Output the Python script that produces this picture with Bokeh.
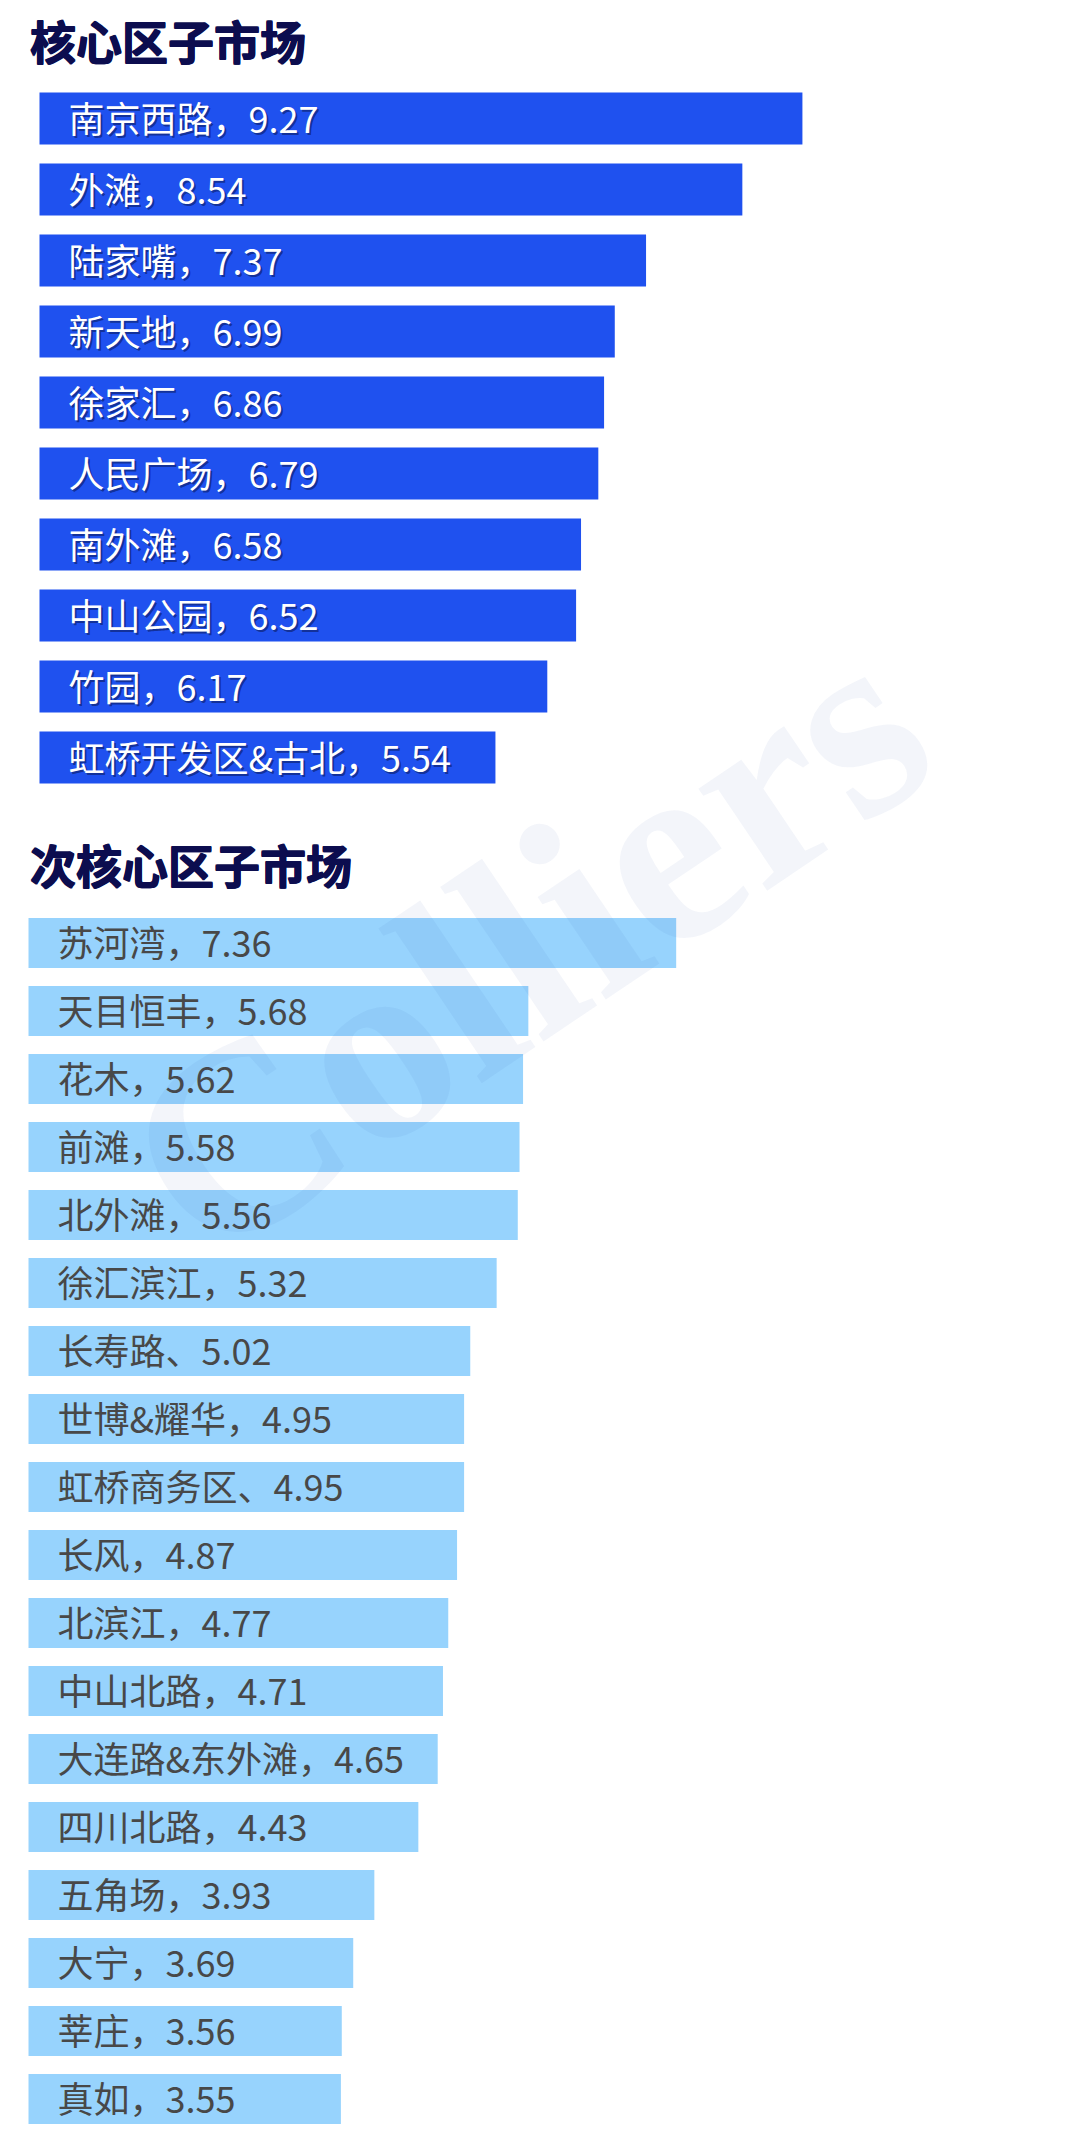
from bokeh.plotting import figure
from bokeh.models import Range1d, Label, ColumnDataSource
from bokeh.core.properties import value
from bokeh.embed import file_html
from bokeh.resources import INLINE

# ---------------- data ----------------
core_names = ["南京西路", "外滩", "陆家嘴", "新天地", "徐家汇", "人民广场",
              "南外滩", "中山公园", "竹园", "虹桥开发区&古北"]
core_values = [9.27, 8.54, 7.37, 6.99, 6.86, 6.79, 6.58, 6.52, 6.17, 5.54]

sub_names = ["苏河湾", "天目恒丰", "花木", "前滩", "北外滩", "徐汇滨江", "长寿路",
             "世博&耀华", "虹桥商务区", "长风", "北滨江", "中山北路", "大连路&东外滩",
             "四川北路", "五角场", "大宁", "莘庄", "真如"]
sub_values = [7.36, 5.68, 5.62, 5.58, 5.56, 5.32, 5.02, 4.95, 4.95, 4.87, 4.77,
              4.71, 4.65, 4.43, 3.93, 3.69, 3.56, 3.55]
sub_seps = ["，", "，", "，", "，", "，", "，", "、", "，", "、", "，", "，",
            "，", "，", "，", "，", "，", "，", "，"]

title_core = "核心区子市场"
title_sub = "次核心区子市场"
watermark = "Colliers"

# ---------------- layout ----------------
W, H = 1068, 2139
CJK = value("Noto Sans CJK SC")
FS = "36px"

core_src = ColumnDataSource(dict(
    row=list(range(len(core_names))),
    val=core_values,
    label=[f"{n}，{v:.2f}" for n, v in zip(core_names, core_values)],
))
sub_src = ColumnDataSource(dict(
    row=list(range(len(sub_names))),
    val=sub_values,
    label=[f"{n}{s}{v:.2f}" for n, s, v in zip(sub_names, sub_seps, sub_values)],
))

# core section: 0 at x=39px, 82.3 px per unit; rows centred at 118 + 71*i px
# secondary section: 0 at x=28px, 88.0 px per unit; rows centred at 942.5 + 68*j px
p = figure(width=W, height=H, output_backend="svg", toolbar_location=None,
           x_range=Range1d(-39 / 82.3, (W - 39) / 82.3),
           y_range=Range1d((H - 118) / 71.0, -118 / 71.0),
           min_border=0, min_border_left=0, min_border_right=0,
           min_border_top=0, min_border_bottom=0)
p.extra_x_ranges = {"sub": Range1d(-28 / 88.0, (W - 28) / 88.0)}
p.extra_y_ranges = {"sub": Range1d((H - 942.5) / 68.0, -942.5 / 68.0)}
p.xaxis.visible = False
p.yaxis.visible = False
p.grid.visible = False
p.outline_line_color = None
p.background_fill_color = "white"
p.border_fill_color = "white"

# core bars
p.hbar(y="row", left=0, right="val", height=0.732, source=core_src,
       fill_color="#1f51ef", line_color=None)
p.text(x=0, y="row", text="label", source=core_src, x_offset=31, y_offset=0.5,
       text_font=CJK, text_font_size=FS, text_baseline="middle",
       text_color="#0a1650", text_alpha=0.55)
p.text(x=0, y="row", text="label", source=core_src, x_offset=29, y_offset=-2,
       text_font=CJK, text_font_size=FS, text_baseline="middle",
       text_color="white")

# secondary bars
p.hbar(y="row", left=0, right="val", height=0.735, source=sub_src,
       fill_color="#97d3fd", line_color=None,
       x_range_name="sub", y_range_name="sub")
p.text(x=0, y="row", text="label", source=sub_src, x_offset=29, y_offset=-2,
       text_font=CJK, text_font_size=FS, text_baseline="middle",
       text_color="#484848", x_range_name="sub", y_range_name="sub")

# titles (drawn with 1px offsets to imitate a heavy weight)
for txt, cy in [(title_core, 38.5), (title_sub, 862)]:
    for dx, dy in [(0, 0), (1, 0), (0, -1), (1, -1)]:
        p.add_layout(Label(x=29 + dx, y=H - cy + dy, x_units="screen", y_units="screen",
                           text=txt, text_font="Noto Sans CJK SC", text_font_style="bold",
                           text_font_size="46px", text_color="#0c0d4f",
                           text_baseline="middle", text_align="left"))

# watermark
p.add_layout(Label(x=525, y=H - 944, x_units="screen", y_units="screen",
                   text=watermark, text_font="Liberation Serif", text_font_style="bold",
                   text_font_size="268px", text_color="#2050a0", text_alpha=0.055,
                   angle=34, angle_units="deg",
                   text_baseline="middle", text_align="center"))

open("out.html", "w").write(file_html(p, INLINE))
